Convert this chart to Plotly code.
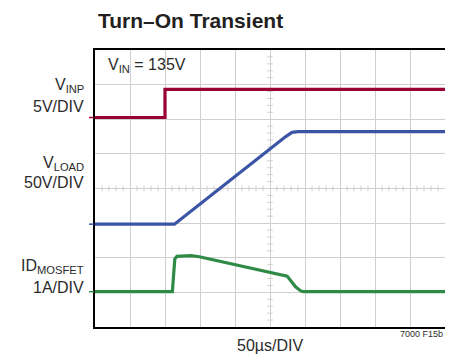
import plotly.graph_objects as go

# scope traces, in divisions (x: 0-10 at 50us/div, y: 0-8)
vinp_t = [0, 2.0, 2.0, 10]
vinp_v = [6.05, 6.05, 6.86, 6.86]

vload_t = [0, 2.27, 5.45, 5.63, 5.8, 10]
vload_v = [2.97, 2.97, 5.5, 5.62, 5.64, 5.64]

id_t = [0, 2.21, 2.28, 2.34, 2.74, 2.98, 5.49, 5.62, 5.73, 5.87, 5.95, 10]
id_v = [1.02, 1.02, 1.96, 2.04, 2.06, 2.03, 1.47, 1.31, 1.16, 1.05, 1.02, 1.02]

RED = "#990033"
BLUE = "#3a55a5"
GREEN = "#2f8a45"
TEXT = "#2b2b2b"
GRID = "#cfcfcf"
FONT = "Liberation Sans, Arial, sans-serif"

# plot frame in page pixels (page body has an 8px margin)
PX0, PX1, PY0, PY1 = 95, 447, 50, 327


def px(x):
    return (x - PX0) / (PX1 - PX0)


def py(y):
    return (PY1 - y) / (PY1 - PY0)


fig = go.Figure()

# minor ticks on the centre graticule lines
tx, ty = [], []
for i in range(41):
    v = i * 0.2
    if abs(v - round(v)) > 1e-6:
        tx += [4.92, 5.08, None]
        ty += [v, v, None]
for i in range(51):
    v = i * 0.2
    if abs(v - round(v)) > 1e-6:
        tx += [v, v, None]
        ty += [3.92, 4.08, None]
fig.add_trace(go.Scatter(x=tx, y=ty, mode="lines", line={"color": GRID, "width": 1},
                         hoverinfo="skip", showlegend=False))

for t, v, c in [(vinp_t, vinp_v, RED), (vload_t, vload_v, BLUE), (id_t, id_v, GREEN)]:
    fig.add_trace(go.Scatter(x=t, y=v, mode="lines", line={"color": c, "width": 3.2},
                             showlegend=False))
    # little level marker left of the frame
    fig.add_shape(type="line", xref="paper", yref="paper", x0=px(89), x1=px(94),
                  y0=v[0] / 8, y1=v[0] / 8, line={"color": c, "width": 1.5})

labels = [
    ("V<sub>INP</sub>", 86), ("5V/DIV", 106.5),
    ("V<sub>LOAD</sub>", 163), ("50V/DIV", 182.5),
    ("ID<sub>MOSFET</sub>", 266.5), ("1A/DIV", 287),
]
for txt, y in labels:
    fig.add_annotation(text=txt, x=px(86), y=py(y), xref="paper", yref="paper",
                       xanchor="right", yanchor="middle", showarrow=False,
                       font={"family": FONT, "size": 16, "color": TEXT})

fig.add_annotation(text="V<sub>IN</sub> = 135V", x=px(106), y=py(65), xref="paper",
                   yref="paper", xanchor="left", yanchor="middle", showarrow=False,
                   font={"family": FONT, "size": 16, "color": TEXT})
fig.add_annotation(text="<b>Turn\u2013On Transient</b>", x=px(96), y=py(20), xref="paper",
                   yref="paper", xanchor="left", yanchor="middle", showarrow=False,
                   font={"family": FONT, "size": 21, "color": "#231f20"})
fig.add_annotation(text="50\u00b5s/DIV", x=px(271), y=py(345), xref="paper", yref="paper",
                   xanchor="center", yanchor="middle", showarrow=False,
                   font={"family": FONT, "size": 16, "color": TEXT})
fig.add_annotation(text="7000 F15b", x=px(447), y=py(334), xref="paper", yref="paper",
                   xanchor="right", yanchor="middle", showarrow=False,
                   font={"family": FONT, "size": 9, "color": TEXT})

fig.update_layout(
    width=445, height=350,
    margin={"l": PX0 - 8, "r": 445 - (PX1 - 8), "t": PY0 - 8, "b": 350 - (PY1 - 8)},
    paper_bgcolor="white", plot_bgcolor="white",
)
fig.update_xaxes(range=[0, 10], dtick=1, showgrid=True, gridcolor=GRID, gridwidth=1,
                 showticklabels=False, ticks="", zeroline=False,
                 showline=True, linecolor="black", linewidth=2, mirror=True)
fig.update_yaxes(range=[0, 8], dtick=1, showgrid=True, gridcolor=GRID, gridwidth=1,
                 showticklabels=False, ticks="", zeroline=False,
                 showline=True, linecolor="black", linewidth=2, mirror=True)

fig.write_html("out.html")
